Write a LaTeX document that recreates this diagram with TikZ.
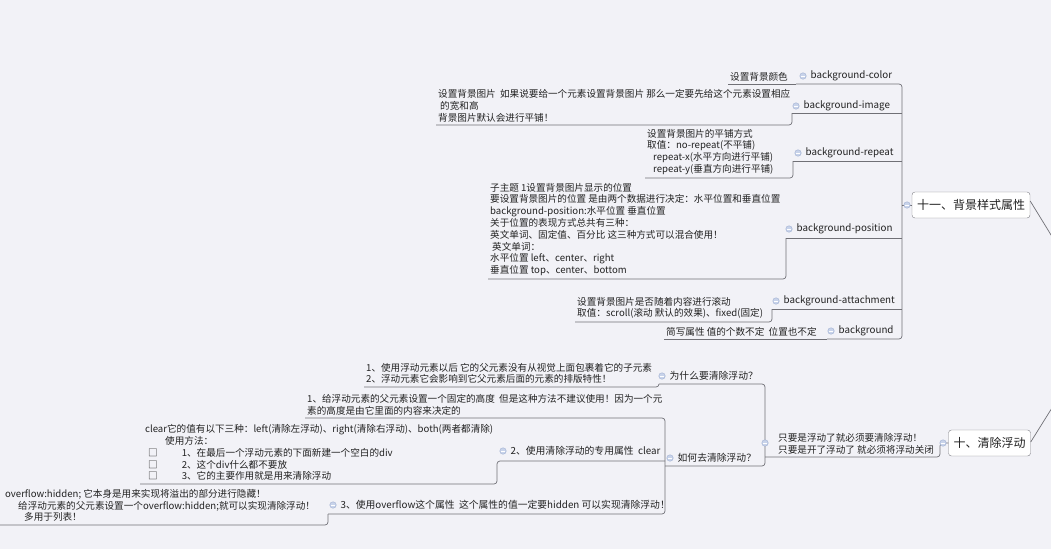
\documentclass[tikz,border=0pt]{standalone}
\usepackage{fontspec}
\setmainfont{Noto Sans CJK SC}
\usetikzlibrary{positioning,calc}

\definecolor{bgcol}{RGB}{242,242,247}
\definecolor{linecol}{RGB}{112,112,118}
\definecolor{txtcol}{RGB}{34,34,34}
\definecolor{rootline}{RGB}{128,128,134}
\definecolor{foldfill}{RGB}{200,211,234}
\definecolor{foldline}{RGB}{160,176,210}

\tikzset{
  note/.style={anchor=south west, align=left, inner xsep=2pt, inner ysep=3pt,
    font=\fontsize{9.6}{11.8}\selectfont, text=txtcol},
  topic/.style={inner sep=0pt, font=\fontsize{9.8}{11.8}\selectfont, text=txtcol},
  rootbox/.style={draw=rootline, fill=white, rounded corners=3pt, inner xsep=5pt,
    minimum height=26pt, font=\fontsize{12}{14}\selectfont, text=txtcol},
  fold/.style={circle, draw=foldline, fill=foldfill, line width=0.4pt, inner sep=0pt,
    minimum size=6.5pt,
    path picture={\draw[white, line width=0.7pt]
      ([xshift=-1.7pt]path picture bounding box.center) --
      ([xshift=1.7pt]path picture bounding box.center);}},
  uline/.style={draw=linecol, line width=0.7pt, rounded corners=3pt},
}

\begin{document}
\begin{tikzpicture}[x=1pt, y=-1pt]
\useasboundingbox (0,0) rectangle (1051,549);
\clip (0,0) rectangle (1051,549);
\fill[bgcol] (0,0) rectangle (1051,549);

% Main topics
\node[rootbox] (r11) at (971,205) {十一、背景样式属性};
\node[rootbox] (r10) at (989.5,443) {十、清除浮动};
\coordinate (hub) at (1105,323);
\coordinate (trunk11) at (902,205);
\coordinate (trunk10) at (940,443);
\coordinate (trunkq) at (765,425);

\draw[uline] ([yshift=4pt]r11.east) -- (hub);
\draw[uline] ([yshift=1pt]r10.east) -- (hub);

% 十一、背景样式属性
\node[note] (n1) at (728,84) {设置背景颜色};
\node[note] (n2) at (436,125) {设置背景图片~~如果说要给一个元素设置背景图片 那么一定要先给这个元素设置相应\\
  \hspace*{2pt}的宽和高\\背景图片默认会进行平铺！};
\node[note] (n3) at (645,178) {设置背景图片的平铺方式\\取值：no-repeat(不平铺)\\
  \hspace*{6pt}repeat-x(水平方向进行平铺)\\\hspace*{6pt}repeat-y(垂直方向进行平铺)};
\node[note] (n4) at (488,279) {子主题 1设置背景图片显示的位置\\
  要设置背景图片的位置 是由两个数据进行决定：水平位置和垂直位置\\
  background-position:水平位置 垂直位置\\
  关于位置的表现方式总共有三种：\\
  英文单词、固定值、百分比 这三种方式可以混合使用！\\
  \hspace*{2pt}英文单词：\\
  水平位置 left、center、right\\
  垂直位置 top、center、bottom};
\node[note] (n5) at (575,322) {设置背景图片是否随着内容进行滚动\\取值：scroll(滚动 默认的效果)、fixed(固定)};
\node[note] (n6) at (664,339) {简写属性 值的个数不定~~位置也不定};

\node[fold] (f1) at (803,76) {};
\node[topic, right=4pt of f1] (t1) {background-color};
\node[fold] (f2) at (796,106) {};
\node[topic, right=4pt of f2] (t2) {background-image};
\node[fold] (f3) at (798,153) {};
\node[topic, right=4pt of f3] (t3) {background-repeat};
\node[fold] (f4) at (789,229) {};
\node[topic, right=4pt of f4] (t4) {background-position};
\node[fold] (f5) at (776,301) {};
\node[topic, right=4pt of f5] (t5) {background-attachment};
\node[fold] (f6) at (831,331) {};
\node[topic, right=4pt of f6] (t6) {background};

\coordinate (j1) at (796,84);
\coordinate (j2) at (792,113);
\coordinate (j3) at (793,161);
\coordinate (j4) at (786,238);
\coordinate (j5) at (772,309);
\coordinate (j6) at (827,339);

\draw[uline] (n1.south west) -- (j1);
\foreach \i in {2,...,5}
  \draw[uline] (n\i.south west) -| (j\i);
\draw[uline] (n6.south west) -- (j6);
\foreach \i in {2,...,5}
  \draw[uline] (j\i) -- (j\i -| trunk11);
\draw[uline] (j1) -- (j1 -| trunk11) -- (j6 -| trunk11) -- (j6);
\draw[uline] (trunk11) -- (r11.west);
\node[fold] (f11) at ($(trunk11)+(5,0)$) {};

% 十、清除浮动
\node[note, inner xsep=0pt] (s1) at (778,457) {只要是浮动了就必须要清除浮动！\\只要是开了浮动了 就必须将浮动关闭};
\draw[uline] (trunkq |- s1.south west) -- (s1.south west -| trunk10) |- (r10.west);
\node[fold] (f10) at ($(trunk10)+(3,0)$) {};

\node[note] (qn1) at (364,387) {1、使用浮动元素以后 它的父元素没有从视觉上面包裹着它的子元素\\
  2、浮动元素它会影响到它父元素后面的元素的排版特性！};
\node[fold] (fq1) at (662,376) {};
\node[topic, right=4pt of fq1] (q1) {为什么要清除浮动？};
\node[fold] (fq2) at (670,458) {};
\node[topic, right=4pt of fq2] (q2) {如何去清除浮动？};
\coordinate (jq1) at (659,384);
\coordinate (jq2) at (665,466);

\draw[uline] (qn1.south west) -| (jq1);
\draw[uline] (jq1) -- (jq1 -| trunkq) -- (jq2 -| trunkq) -- (jq2);
\node[fold] (fs1) at (trunkq |- 0,443) {};

\node[note] (p1) at (305,418) {1、给浮动元素的父元素设置一个固定的高度~~但是这种方法不建议使用！因为一个元\\
  素的高度是由它里面的内容来决定的};
\node[note] (pn2) at (140,484) {\hspace*{3pt}clear它的值有以下三种：left(清除左浮动)、right(清除右浮动)、both(两者都清除)\\
  \hspace*{23pt}使用方法：\\
  \hspace*{6pt}□\hspace*{24pt}1、在最后一个浮动元素的下面新建一个空白的div\\
  \hspace*{6pt}□\hspace*{24pt}2、这个div什么都不要放\\
  \hspace*{6pt}□\hspace*{24pt}3、它的主要作用就是用来清除浮动};
\node[fold] (fp2) at (503,451) {};
\node[topic, right=4pt of fp2] (p2) {2、使用清除浮动的专用属性~~clear};
\node[note] (pn3) at (0,525) {\hspace*{3pt}overflow:hidden; 它本身是用来实现将溢出的部分进行隐藏！\\
  \hspace*{16pt}给浮动元素的父元素设置一个overflow:hidden;就可以实现清除浮动！\\
  \hspace*{22pt}多用于列表！};
\node[fold] (fp3) at (333,505) {};
\node[topic, right=4pt of fp3] (p3) {3、使用overflow这个属性~~这个属性的值一定要hidden 可以实现清除浮动！};
\coordinate (jp2) at (497,461);
\coordinate (jp3) at (328,514);

\draw[uline] (pn2.south west) -| (jp2) -- (jp2 -| jq2);
\draw[uline] (pn3.south west) -| (jp3);
\draw[uline] (p1.south west) -- (p1.south west -| jq2) -- (jp3 -| jq2) -- (jp3);
\end{tikzpicture}
\end{document}
